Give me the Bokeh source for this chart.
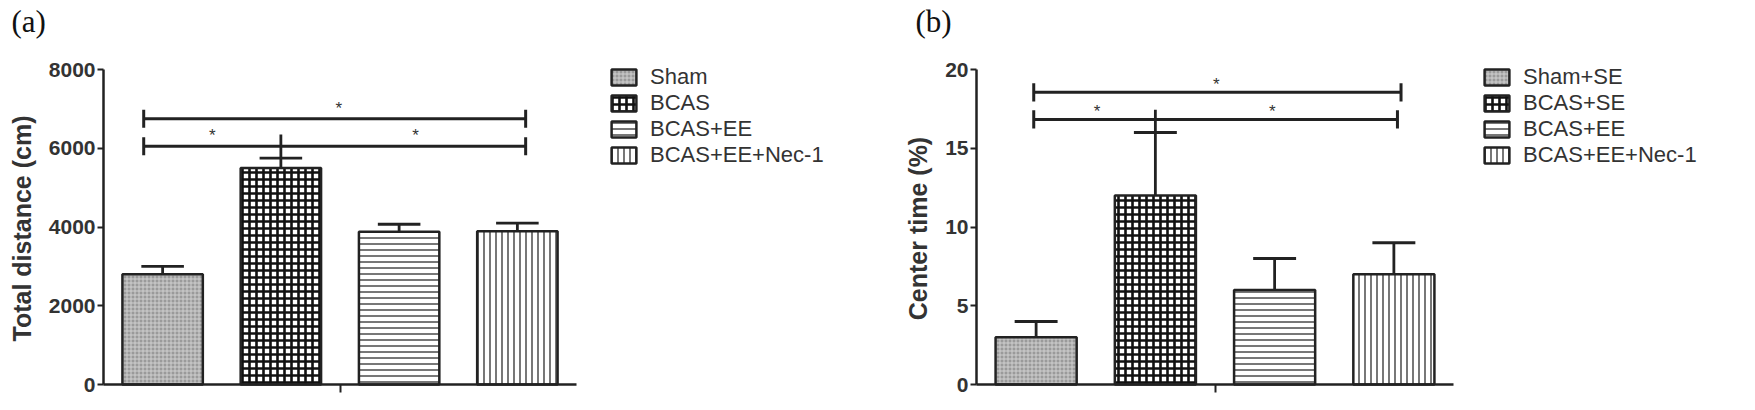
from bokeh.plotting import figure
from bokeh.layouts import row
from bokeh.models import Range1d, FixedTicker, Legend, LegendItem, Label
from bokeh.core.properties import value
from bokeh.embed import file_html
from bokeh.resources import INLINE

# ---------------- data ----------------
x_pos = [1, 2, 3, 4]

groups_a = ["Sham", "BCAS", "BCAS+EE", "BCAS+EE+Nec-1"]
dist_mean = [2800, 5500, 3880, 3890]
dist_sem = [200, 250, 190, 210]

groups_b = ["Sham+SE", "BCAS+SE", "BCAS+EE", "BCAS+EE+Nec-1"]
ct_mean = [3, 12, 6, 7]
ct_sem = [1, 4, 2, 2]

# significance brackets: start x, end x, height
brk_a_x0 = [0.84, 0.84]
brk_a_x1 = [4.07, 4.07]
brk_a_y = [6750, 6050]
star_a_x = [2.49, 1.42, 3.14]
star_a_y = [7000, 6320, 6320]
mid_a = [2, 5750, 6350]

brk_b_x0 = [0.98, 0.98]
brk_b_x1 = [4.06, 4.03]
brk_b_y = [18.55, 16.83]
star_b_x = [2.51, 1.51, 2.98]
star_b_y = [19.05, 17.35, 17.35]
mid_b = [2, 16, 17.45]

a_ticks = [0, 2000, 4000, 6000, 8000]
b_ticks = [0, 5, 10, 15, 20]

# ---------------- styles ----------------
fills = ["#9a9a9a", "#ffffff", "#ffffff", "#ffffff"]
hatches = ["+", "+", "-", "|"]
hatch_colors = ["#d0d0d0", "#111111", "#555555", "#555555"]
hatch_scales = [4, 7, 6, 6]
hatch_weights = [1, 2.6, 1.6, 1.6]
INK = "#222222"
SANS = "Liberation Sans"

H = 394
TOP_TICK_PX = 69     # canvas y of the top tick
ZERO_PX = 384        # canvas y of the zero line


def make_panel(tag, groups, mean, sem, ymax, ticks, ylabel, bx0, bx1, by,
               sx, sy, mid, cap_h, width, axis_px, unit_px, legend_px,
               tag_px, ylab_px):
    # the frame covers the whole canvas; axes are pinned at x=0.5 / y=0
    x_start = 0.5 - axis_px / unit_px
    x_end = x_start + width / unit_px
    unit_y = (ZERO_PX - TOP_TICK_PX) / ymax
    y_start = -(H - ZERO_PX) / unit_y
    y_end = ZERO_PX / unit_y
    p = figure(width=width, height=H, output_backend="svg",
               toolbar_location=None, x_range=Range1d(x_start, x_end),
               y_range=Range1d(y_start, y_end), min_border=0)
    p.outline_line_color = None
    p.grid.visible = False
    p.background_fill_color = "white"
    p.title.visible = False

    items = []
    for i in range(4):
        r = p.vbar(x=[x_pos[i]], top=[mean[i]], width=0.68, bottom=0,
                   fill_color=fills[i], line_color=INK, line_width=2.5,
                   hatch_pattern=hatches[i], hatch_color=hatch_colors[i],
                   hatch_scale=hatch_scales[i], hatch_weight=hatch_weights[i])
        items.append(LegendItem(label=groups[i], renderers=[r]))

    tops = [m + s for m, s in zip(mean, sem)]
    p.segment(x0=x_pos, y0=mean, x1=x_pos, y1=tops, line_color=INK,
              line_width=2.8)
    p.segment(x0=[x - 0.18 for x in x_pos], y0=tops,
              x1=[x + 0.18 for x in x_pos], y1=tops, line_color=INK,
              line_width=2.8)

    # brackets
    p.segment(x0=bx0, y0=by, x1=bx1, y1=by, line_color=INK, line_width=3)
    p.segment(x0=bx0, y0=[y - cap_h for y in by], x1=bx0,
              y1=[y + cap_h for y in by], line_color=INK, line_width=3)
    p.segment(x0=bx1, y0=[y - cap_h for y in by], x1=bx1,
              y1=[y + cap_h for y in by], line_color=INK, line_width=3)
    p.segment(x0=[mid[0]], y0=[mid[1]], x1=[mid[0]], y1=[mid[2]],
              line_color=INK, line_width=2.8)
    p.text(x=sx, y=sy, text=["*"] * len(sx), text_align="center",
           text_baseline="middle", text_font=value(SANS),
           text_font_size="17px", text_color="#333333")

    # axes (pinned inside the frame)
    xa = p.xaxis[0]
    xa.fixed_location = 0
    xa.bounds = (0.5, 4.5)
    xa.ticker = FixedTicker(ticks=[2.5])
    xa.major_label_overrides = {2.5: ""}
    xa.major_label_standoff = 0
    xa.major_tick_out = 8
    xa.major_tick_in = 0
    xa.minor_tick_line_color = None
    xa.axis_line_width = 2.5
    xa.major_tick_line_width = 2
    xa.axis_line_color = INK
    xa.major_tick_line_color = INK

    ya = p.yaxis[0]
    ya.fixed_location = 0.5
    ya.bounds = (0, ymax)
    ya.ticker = FixedTicker(ticks=ticks)
    ya.major_tick_out = 6
    ya.major_tick_in = 0
    ya.minor_tick_line_color = None
    ya.axis_line_width = 2.5
    ya.major_tick_line_width = 2
    ya.axis_line_color = INK
    ya.major_tick_line_color = INK
    ya.major_label_text_font = SANS
    ya.major_label_text_font_style = "bold"
    ya.major_label_text_font_size = "21px"
    ya.major_label_text_color = "#333333"
    ya.major_label_standoff = 2

    # axis title (rotated) and panel tag, placed in screen units
    p.add_layout(Label(x=ylab_px[0], y=H - ylab_px[1], x_units="screen",
                       y_units="screen", text=ylabel, angle=90,
                       angle_units="deg", text_align="center",
                       text_baseline="middle", text_font=SANS,
                       text_font_style="bold", text_font_size="25px",
                       text_color="#333333"))
    p.add_layout(Label(x=tag_px[0], y=H - tag_px[1], x_units="screen",
                       y_units="screen", text=tag, text_align="left",
                       text_baseline="middle", text_font="Liberation Serif",
                       text_font_size="31px", text_color="#111111"))

    leg = Legend(items=items, location=legend_px)
    leg.label_text_font = SANS
    leg.label_text_font_size = "22px"
    leg.label_text_color = "#333333"
    leg.glyph_width = 31
    leg.glyph_height = 20
    leg.label_height = 20
    leg.label_standoff = 11
    leg.spacing = 0
    leg.padding = 0
    leg.margin = 0
    leg.border_line_alpha = 0
    leg.background_fill_alpha = 0
    p.add_layout(leg)
    return p


pa = make_panel("(a)", groups_a, dist_mean, dist_sem, 8000, a_ticks,
                "Total distance (cm)", brk_a_x0, brk_a_x1, brk_a_y,
                star_a_x, star_a_y, mid_a, 230, 869, 103, 118.25,
                (608, 226), (11, 21), (21, 228))
pb = make_panel("(b)", groups_b, ct_mean, ct_sem, 20, b_ticks,
                "Center time (%)", brk_b_x0, brk_b_x1, brk_b_y,
                star_b_x, star_b_y, mid_b, 0.58, 870, 107, 119.25,
                (612, 226), (46, 21), (48, 228))

layout = row(pa, pb)
open("out.html", "w").write(file_html(layout, INLINE))
